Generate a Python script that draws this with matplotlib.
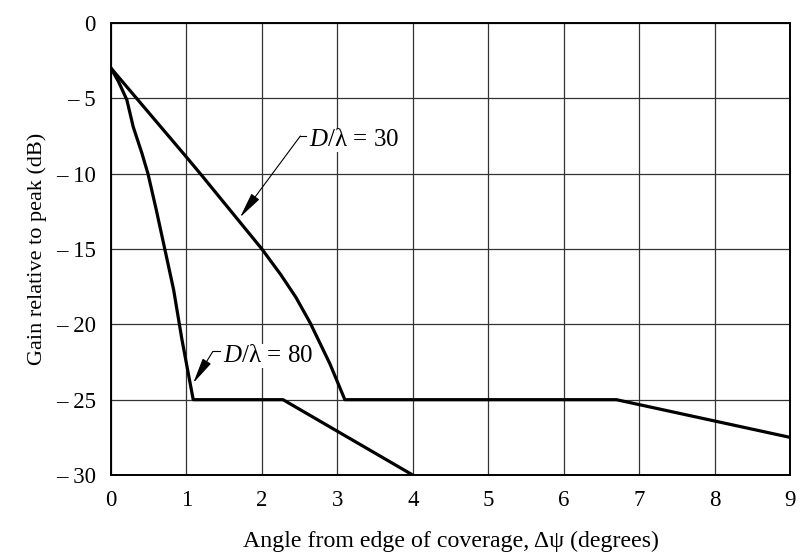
import matplotlib
matplotlib.use("Agg")
import matplotlib.pyplot as plt

# D/lambda = 30 curve
angle_30 = [0.0, 1.0, 1.2, 2.0, 2.25, 2.45, 2.64, 2.9, 3.1, 6.7, 9.0]
gain_30 = [-3.0, -8.9, -10.1, -15.0, -16.7, -18.2, -19.9, -22.6, -25.0, -25.0, -27.5]

# D/lambda = 80 curve
angle_80 = [0.0, 0.1, 0.21, 0.295, 0.41, 0.49, 0.6, 0.7, 0.83, 0.94, 1.09, 2.28, 4.0]
gain_80 = [-3.0, -3.9, -5.1, -6.9, -8.65, -10.0, -12.4, -14.7, -17.7, -21.0, -25.0, -25.0, -30.0]

x_ticks = list(range(0, 10))
y_ticks = [0, -5, -10, -15, -20, -25, -30]
y_labels = ["0", "\u2013 5", "\u2013 10", "\u2013 15", "\u2013 20", "\u2013 25", "\u2013 30"]

# annotations: (label, arrow tip, leader corner, text x, text y)
labels = [
    ("$D$/\u03bb = 30", (1.71, -12.9), (2.51, -7.5), 2.62, -7.75),
    ("$D$/\u03bb = 80", (1.09, -23.9), (1.35, -21.8), 1.48, -22.1),
]

plt.rcParams["font.family"] = ["Liberation Serif", "DejaVu Serif"]
plt.rcParams["mathtext.fontset"] = "custom"
plt.rcParams["mathtext.it"] = "Liberation Serif:italic"
plt.rcParams["mathtext.rm"] = "Liberation Serif"

fig = plt.figure(figsize=(8.02, 5.55), dpi=100)
ax = fig.add_axes([0.1384, 0.1441, 0.8466, 0.8145])

ax.plot(angle_30, gain_30, color="black", lw=2.3, solid_joinstyle="round")
ax.plot(angle_80, gain_80, color="black", lw=2.3, solid_joinstyle="round")

ax.set_xlim(0, 9)
ax.set_ylim(-30, 0)
ax.set_xticks(x_ticks)
ax.set_yticks(y_ticks)
ax.set_yticklabels(y_labels)
ax.tick_params(length=0, labelsize=16.5, pad=11)
ax.grid(True, color="#333333", lw=0.9)
for s in ax.spines.values():
    s.set_linewidth(1.4)

for text, tip, corner, tx, ty in labels:
    ax.plot([corner[0], tx - 0.03], [corner[1], corner[1]], color="black", lw=0.8)
    ax.annotate("", xy=tip, xytext=corner,
                arrowprops=dict(arrowstyle="-|>,head_length=1.6,head_width=0.3",
                                color="black", lw=0.8, shrinkA=0, shrinkB=0))
    ax.text(tx, ty, text, fontsize=18, va="center", ha="left",
            bbox=dict(facecolor="white", edgecolor="none", pad=0.5))

ax.set_xlabel("Angle from edge of coverage, \u0394\u03c8 (degrees)", fontsize=17.2, labelpad=14)
ax.set_ylabel("Gain relative to peak (dB)", fontsize=16, labelpad=6)

fig.savefig("out.png", dpi=100, facecolor="white")
